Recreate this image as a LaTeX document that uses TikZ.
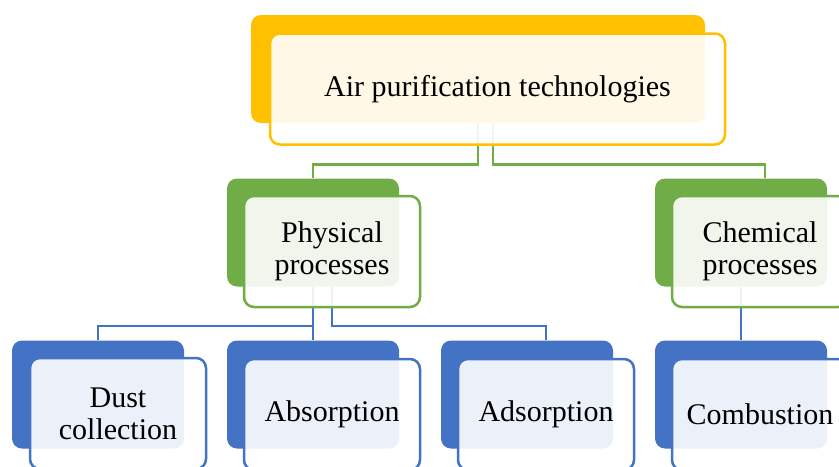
\documentclass[tikz,border=0pt]{standalone}
\usepackage{fontspec}
\setmainfont{Liberation Serif}
\usetikzlibrary{positioning,calc}
\pgfdeclarelayer{background}
\pgfsetlayers{background,main}
\definecolor{topyellow}{HTML}{FFC000}
\definecolor{midgreen}{HTML}{70AD47}
\definecolor{lowblue}{HTML}{4472C4}

\begin{document}
\begin{tikzpicture}[
  x=0.5pt, y=-0.5pt,
  back/.style={rounded corners=5pt, inner sep=0pt,
               minimum width=86pt, minimum height=54pt},
  front/.style={draw, rounded corners=5pt, line width=1.25pt, inner sep=0pt,
                fill=white, fill opacity=0.9, text opacity=1, draw opacity=1,
                minimum width=88pt, minimum height=55.5pt, align=center,
                font=\fontsize{15}{16}\selectfont},
  glink/.style={midgreen, line width=1.25pt},
  blink/.style={lowblue, line width=1.25pt},
]
\clip (0,0) rectangle (839,466);
\useasboundingbox (0,0) rectangle (839,466);

% root
\node[back, fill=topyellow, minimum width=227pt] (topB) at (478,69) {};
\node[front, draw=topyellow, minimum width=227.5pt] (top) at ($(topB)+(19.5,20)$) {Air purification technologies};

% second level
\node[back, fill=midgreen] (physB) at (313,232.5) {};
\node[front, draw=midgreen] (phys) at ($(physB)+(19,19)$) {Physical\\processes};
\node[back, fill=midgreen] (chemB) at (741,232.5) {};
\node[front, draw=midgreen] (chem) at ($(chemB)+(19,19)$) {Chemical\\processes};

% third level
\node[back, fill=lowblue] (dustB) at (98,394.5) {};
\node[front, draw=lowblue] (dust) at ($(dustB)+(20,19)$) {Dust\\collection};
\node[back, fill=lowblue] (absB) at (313,394.5) {};
\node[front, draw=lowblue] (abs) at ($(absB)+(19,20)$) {Absorption};
\node[back, fill=lowblue] (adsB) at (527,394.5) {};
\node[front, draw=lowblue] (ads) at ($(adsB)+(19,20)$) {Adsorption};
\node[back, fill=lowblue] (combB) at (741,394.5) {};
\node[front, draw=lowblue] (comb) at ($(combB)+(19,20)$) {Combustion};

% connectors, behind the boxes
\begin{pgfonlayer}{background}
\draw[glink] (topB.south) -- ++(0,41) -| (physB.north);
\draw[glink] ($(topB.south)+(15,0)$) -- ++(0,41) -| ($(chemB.north)+(24,0)$);
\draw[blink] (physB.south) -- ++(0,39) -| (dustB.north);
\draw[blink] (physB.south) -- (absB.north);
\draw[blink] (physB.south -| phys.south) -- ++(0,39) -| (adsB.north -| ads.south);
\draw[blink] (chemB.south) -- (combB.north);
\end{pgfonlayer}
\end{tikzpicture}
\end{document}
